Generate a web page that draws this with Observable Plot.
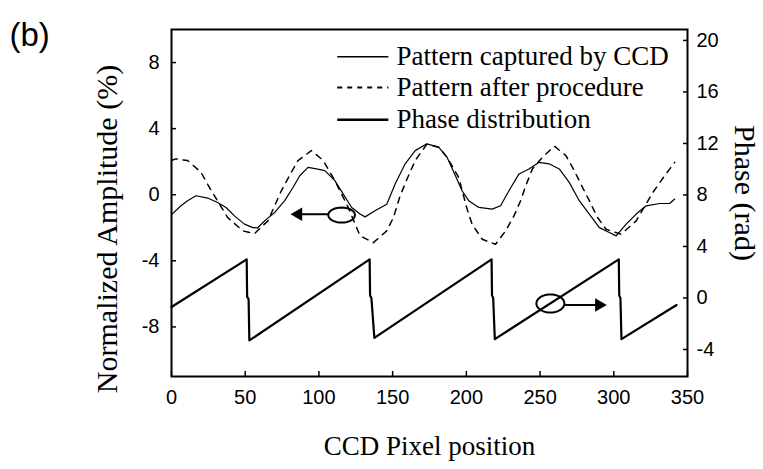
<!DOCTYPE html>
<html><head><meta charset="utf-8">
<script src="https://cdn.jsdelivr.net/npm/d3@7"></script>
<script src="https://cdn.jsdelivr.net/npm/@observablehq/plot@0.6"></script>
<style>
html,body{margin:0;padding:0;background:#fff}
#chart{width:763px;height:469px}
</style>
</head><body><div id="chart"></div>
<script>
// ---- data ----
const ccdX = [0,6.4,10.9,16.6,24.5,31.3,37,42.7,49.5,55.2,58.6,63.1,70,76.8,82.4,87,92.6,98.3,104,110.8,116.5,122.2,127.9,131.3,138,146,151.7,158.5,165.3,173.2,181.2,186.9,192.6,197.1,201.6,208.4,217.5,223.2,228.9,235.7,242.5,249.3,256.1,263,269.8,276.6,283.4,290.2,297,301.6,308.4,315.2,322,331.1,337.9,341.3];
const ccdY = [-1.2,-0.67,-0.36,-0.06,-0.2,-0.47,-0.77,-1.28,-1.78,-1.99,-2.0,-1.58,-1.07,-0.36,0.44,1.15,1.66,1.56,1.46,0.85,0.04,-0.77,-1.17,-1.34,-0.97,-0.57,0.65,1.87,2.67,3.08,2.88,2.27,1.15,0.24,-0.36,-0.77,-0.87,-0.67,0.24,1.26,1.56,1.96,1.87,1.56,0.75,-0.36,-1.17,-1.99,-2.29,-2.49,-1.78,-1.17,-0.67,-0.53,-0.53,-0.26];

const procX = [0,2.9,10.9,20,25.7,38.1,48.4,56.3,65.4,74.5,81.3,85.8,94.9,102.9,110.8,119.9,127.9,136.9,146,150.5,155.1,160,165.3,173.2,181.2,186.9,194.8,200.5,203.9,210.7,219.8,226.6,232.3,236.8,240.3,244.8,251.6,259.7,267.5,273.2,278.8,283.4,289,294.8,305,315.2,326.5,334.5,341.3];
const procY = [2.07,2.17,2.07,1.36,0.44,-1.38,-2.19,-2.35,-1.58,0.24,1.36,2.07,2.67,2.07,0.85,-0.77,-2.49,-2.9,-2.19,-1.38,-0.06,1.0,2.07,3.05,2.88,2.27,1.05,-0.87,-1.78,-2.69,-3.0,-2.19,-1.28,-0.36,0.55,1.56,2.27,2.94,2.37,1.46,0.44,-0.36,-1.38,-2.09,-2.39,-1.58,0.14,1.15,1.96];

const phaseX = [0,51,51.3,52.3,52.8,134.4,134.7,135.6,137.6,217.1,217.4,218.2,219.3,303.4,303.7,304.5,305.2,342.6];
const phaseY = [-0.7,3.0,0.1,-0.1,-3.3,3.0,0.2,0.0,-3.1,3.0,0.2,0.0,-3.2,3.0,0.2,0.0,-3.2,-0.55];

const xTicks = [0,50,100,150,200,250,300,350];
const leftTicks = [-8,-4,0,4,8];
const rightTicks = [-4,0,4,8,12,16,20];
const legendLabels = ["Pattern captured by CCD","Pattern after procedure","Phase distribution"];
const xTitle = "CCD Pixel position";
const yLeftTitle = "Normalized Amplitude (%)";
const yRightTitle = "Phase (rad)";
const panelTag = "(b)";

// ---- scales ----
const leftDomain = [-11, 10];
const rightDomain = [-6.1, 20.85];
const toLeft = d3.scaleLinear().domain(rightDomain).range(leftDomain);

const ccd = ccdX.map((x,i)=>({x, y: ccdY[i]}));
const proc = procX.map((x,i)=>({x, y: procY[i]}));
const phase = phaseX.map((x,i)=>({x, y: toLeft(phaseY[i])}));

// legend rows (data units on left axis)
const legendRows = legendLabels.map((label,i)=>({label, y:[8.35,6.49,4.54][i], x1:112.4, x2:147.1, xt:152.6,
  dash: i===1, w: i===2 ? 2.4 : 1.6}));

// annotation ellipses
function ellipse(cx, cy, rx, ry){ return d3.range(0, 361, 10).map(a=>({x: cx + rx*Math.cos(a*Math.PI/180), y: cy + ry*Math.sin(a*Math.PI/180)})); }
const ellLeft = ellipse(115.4, -1.23, 9.06, 0.456);
const ellRight = ellipse(257, toLeft(-0.43), 9.5, 0.55);
const arrows = [
  {x1:106.3, x2:88, y:-1.18, tx:86.0, rot:-90},
  {x1:266.5, x2:288, y:toLeft(-0.55), tx:290.0, rot:90}
];

const sans = "'Liberation Sans', Arial, sans-serif";
const serif = "'Liberation Serif', 'Times New Roman', serif";

const chart = Plot.plot({
  width: 763, height: 469,
  marginLeft: 171, marginRight: 76, marginTop: 29, marginBottom: 93,
  x: {domain: [0, 350]},
  y: {domain: leftDomain},
  style: {fontFamily: sans, fontSize: "20px", color: "#000", background: "#fff"},
  marks: [
    Plot.axisX({ticks: xTicks, tickSize: -5, tickPadding: 18, tickFormat: d=>String(d), label: null, fontSize: 20, strokeWidth: 1.5}),
    Plot.axisY({anchor: "left", ticks: leftTicks, tickSize: -5, tickPadding: 17, tickFormat: d=>String(d), label: null, fontSize: 20, strokeWidth: 1.5}),
    Plot.axisY({anchor: "right", ticks: rightTicks.map(toLeft), tickSize: -5, tickPadding: 14, tickFormat: d=>String(Math.round(toLeft.invert(d))), label: null, fontSize: 20, strokeWidth: 1.5}),
    Plot.line(ccd, {x: "x", y: "y", stroke: "#000", strokeWidth: 1.2}),
    Plot.line(proc, {x: "x", y: "y", stroke: "#000", strokeWidth: 1.5, strokeDasharray: "6,6"}),
    Plot.line(phase, {x: "x", y: "y", stroke: "#000", strokeWidth: 2.2}),
    // legend
    Plot.link(legendRows.filter(d=>!d.dash), {x1: "x1", x2: "x2", y1: "y", y2: "y", stroke: "#000", strokeWidth: "w"}),
    Plot.link(legendRows.filter(d=>d.dash), {x1: "x1", x2: "x2", y1: "y", y2: "y", stroke: "#000", strokeWidth: 1.8, strokeDasharray: "5,5"}),
    Plot.text(legendRows, {x: "xt", y: "y", text: "label", textAnchor: "start", lineAnchor: "middle", fontFamily: serif, fontSize: 27, fill: "#000"}),
    // annotations
    Plot.line(ellLeft, {x: "x", y: "y", stroke: "#000", strokeWidth: 2}),
    Plot.line(ellRight, {x: "x", y: "y", stroke: "#000", strokeWidth: 2}),
    Plot.link(arrows, {x1: "x1", x2: "x2", y1: "y", y2: "y", stroke: "#000", strokeWidth: 2}),
    Plot.dot(arrows, {x: "tx", y: "y", symbol: "triangle", r: 5, fill: "#000", stroke: "none", rotate: "rot"}),
    // titles
    Plot.text([xTitle], {frameAnchor: "bottom", dy: 70, text: d=>d, fontFamily: serif, fontSize: 27, textAnchor: "middle", lineAnchor: "middle", fill: "#000"}),
    Plot.text([yLeftTitle], {frameAnchor: "left", dx: -64, dy: 26, rotate: -90, text: d=>d, fontFamily: serif, fontSize: 30, textAnchor: "middle", lineAnchor: "middle", fill: "#000"}),
    Plot.text([yRightTitle], {frameAnchor: "right", dx: 57, dy: -10, rotate: 90, text: d=>d, fontFamily: serif, fontSize: 30, textAnchor: "middle", lineAnchor: "middle", fill: "#000"}),
    Plot.text([panelTag], {frameAnchor: "top-left", dx: -162, dy: 6, text: d=>d, fontFamily: sans, fontSize: 33, textAnchor: "start", lineAnchor: "middle", fill: "#000"}),
    Plot.frame({stroke: "#000", strokeWidth: 2})
  ]
});
document.getElementById("chart").appendChild(chart);
</script>
</body></html>
